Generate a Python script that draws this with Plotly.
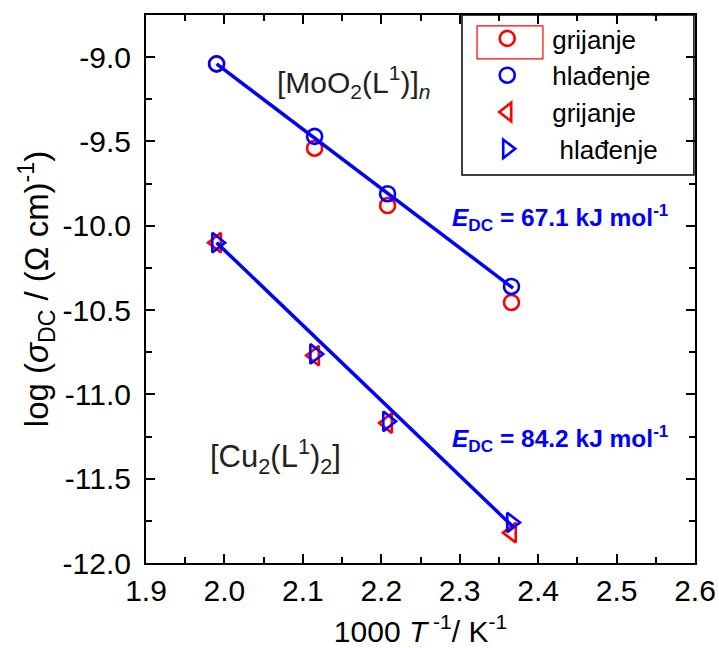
import plotly.graph_objects as go

# 1000/T values (K^-1)
x_pts = [1.99, 2.115, 2.208, 2.366]

# [MoO2(L1)]n
mo_heat = [-9.04, -9.54, -9.88, -10.455]
mo_cool = [-9.04, -9.47, -9.81, -10.36]

# [Cu2(L1)2]
cu_heat = [-10.10, -10.77, -11.17, -11.82]
cu_cool = [-10.10, -10.76, -11.16, -11.76]

# fitted lines (end points)
fit_x = [1.99, 2.368]
fit_mo = [-9.04, -10.37]
fit_cu = [-10.10, -11.785]

# tick labels
x_ticks = [1.9, 2.0, 2.1, 2.2, 2.3, 2.4, 2.5, 2.6]
x_labels = ["1.9", "2.0", "2.1", "2.2", "2.3", "2.4", "2.5", "2.6"]
y_ticks = [-12.0, -11.5, -11.0, -10.5, -10.0, -9.5, -9.0]
y_labels = ["-12.0", "-11.5", "-11.0", "-10.5", "-10.0", "-9.5", "-9.0"]

FONT = "Arial, Liberation Sans, sans-serif"

fig = go.Figure()

def add(y, name, symbol, color, size, group):
    fig.add_trace(go.Scatter(
        x=x_pts, y=y, mode="markers", name=name, legendgroup=group,
        marker=dict(symbol=symbol, size=size, color=color,
                    line=dict(color=color, width=2.6))))

add(mo_heat, "grijanje", "circle-open", "red", 15, "a")
add(mo_cool, "hlađenje", "circle-open", "blue", 15, "b")
add(cu_heat, "grijanje", "triangle-left-open", "red", 17, "c")
add(cu_cool, " hlađenje", "triangle-right-open", "blue", 17, "d")

for fy in [fit_mo, fit_cu]:
    fig.add_trace(go.Scatter(x=fit_x, y=fy, mode="lines", showlegend=False,
                             line=dict(color="blue", width=3.5)))

# legend frame
fig.add_shape(type="rect", xref="paper", yref="paper",
              x0=0.5756, x1=0.998, y0=0.708, y1=1.0,
              line=dict(color="black", width=1.5))
# little red selection box around first legend symbol
fig.add_shape(type="rect", xref="paper", yref="paper",
              x0=0.603, x1=0.723, y0=0.920, y1=0.980,
              line=dict(color="red", width=1.2))

fig.add_annotation(x=2.164, y=-9.15, xref="x", yref="y", showarrow=False,
                   text="[MoO<sub>2</sub>(L<sup>1</sup>)]<sub><i>n</i></sub>",
                   font=dict(size=30, color="#222", family=FONT))
fig.add_annotation(x=2.065, y=-11.37, xref="x", yref="y", showarrow=False,
                   text="[Cu<sub>2</sub>(L<sup>1</sup>)<sub>2</sub>]",
                   font=dict(size=31, color="#222", family=FONT))
fig.add_annotation(x=2.429, y=-9.95, xref="x", yref="y", showarrow=False,
                   text="<b><i>E</i><sub>DC</sub> = 67.1 kJ mol<sup>-1</sup></b>",
                   font=dict(size=24.5, color="blue", family=FONT))
fig.add_annotation(x=2.429, y=-11.26, xref="x", yref="y", showarrow=False,
                   text="<b><i>E</i><sub>DC</sub> = 84.2 kJ mol<sup>-1</sup></b>",
                   font=dict(size=24.5, color="blue", family=FONT))

axis_common = dict(showline=True, linecolor="black", linewidth=2, mirror="allticks",
                   ticks="inside", ticklen=9, tickwidth=1.5, tickcolor="black",
                   showgrid=False, zeroline=False, automargin=False,
                   ticklabeloverflow="allow",
                   tickfont=dict(size=30, color="black", family=FONT))

fig.update_xaxes(range=[1.9, 2.6], tickvals=x_ticks, ticktext=x_labels,
                 minor=dict(dtick=0.05, tick0=1.9, ticks="inside", ticklen=6, tickcolor="black"),
                 title=dict(text="1000 <i>T</i><sup> -1</sup>/ K<sup>-1</sup>",
                            font=dict(size=30, color="black", family=FONT), standoff=16),
                 **axis_common)
fig.update_yaxes(range=[-12, -8.75], tickvals=y_ticks, ticktext=y_labels,
                 ticklabelstandoff=7,
                 minor=dict(dtick=0.25, tick0=-12, ticks="inside", ticklen=6, tickcolor="black"),
                 title=dict(text="log (<i>σ</i><sub>DC</sub> / (Ω cm)<sup>-1</sup>)",
                            font=dict(size=33, color="black", family=FONT), standoff=4),
                 **axis_common)

fig.update_layout(
    width=719, height=648,
    margin=dict(l=146, r=24, t=15, b=85),
    plot_bgcolor="white", paper_bgcolor="white",
    legend=dict(x=0.576, y=1, xanchor="left", yanchor="top",
                bgcolor="rgba(255,255,255,0)", borderwidth=0,
                font=dict(size=26, color="black", family=FONT),
                tracegroupgap=0, itemwidth=80),
)

# drop the default page margin so the figure fills the window exactly
fig.write_html("out.html", config={"displayModeBar": False},
               post_script="document.body.style.margin='0';document.body.style.overflow='hidden';")
